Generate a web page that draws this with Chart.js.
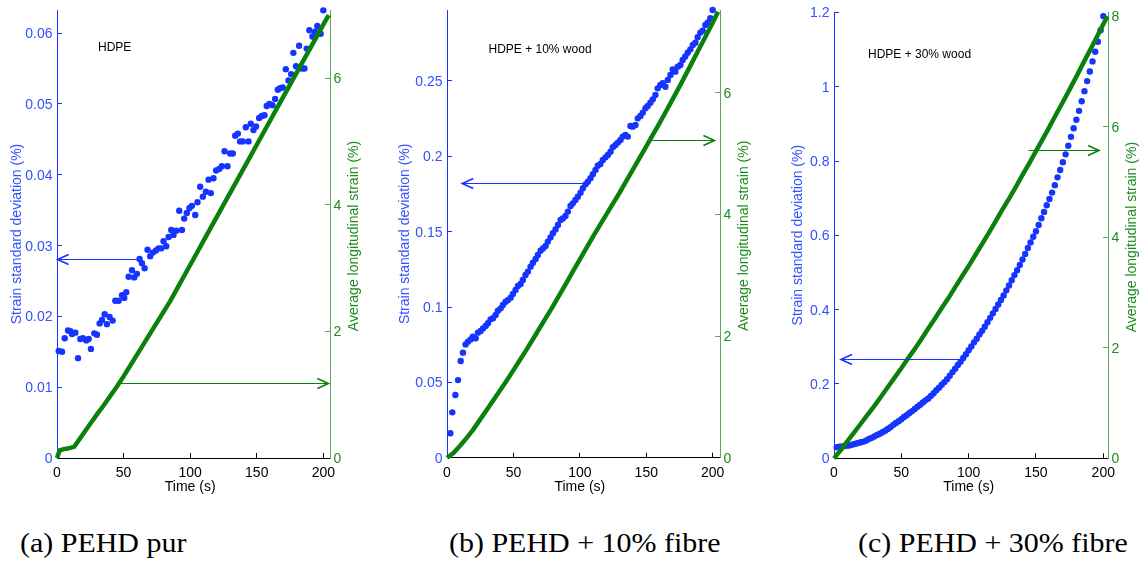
<!DOCTYPE html>
<html>
<head>
<meta charset="utf-8">
<script src="https://cdn.jsdelivr.net/npm/chart.js@4.4.1/dist/chart.umd.min.js"></script>
<style>
    body { margin: 0; background: #fff; width: 1147px; height: 563px; overflow: hidden; position: relative; }
    .panel { position: absolute; top: 0; }
    .caption { position: absolute; top: 529px; font-family: "Liberation Serif", serif; font-size: 28px; line-height: 28px; white-space: nowrap; color: #000; transform: scaleX(1.07); transform-origin: left center; }
</style>
</head>
<body>
<div class="panel" id="panelA"><canvas id="chartA"></canvas></div>
<div class="panel" id="panelB"><canvas id="chartB"></canvas></div>
<div class="panel" id="panelC"><canvas id="chartC"></canvas></div>
<div class="caption" style="left:20px">(a) PEHD pur</div>
<div class="caption" style="left:449px">(b) PEHD + 10% fibre</div>
<div class="caption" style="left:858px">(c) PEHD + 30% fibre</div>
<script>
// HDPE: strain standard deviation (left axis) and average strain (right axis)
const timeA = [1.3, 3.8, 5.8, 8.3, 10, 11.3, 13.8, 15.8, 17.5, 19.5, 22, 23.8, 25.5, 28, 30, 32, 33.8, 35.8, 37.5, 39.5,
    41.8, 43.8, 46.3, 48.8, 50.5, 52, 53.8, 56.3, 58, 60, 62, 63.8, 65.8, 68, 70, 72, 74.3, 76.3, 78.3, 80,
    82, 83.8, 85.8, 87.5, 89.5, 91.8, 93.8, 95.5, 97.5, 99.5, 101.3, 103.8, 105.5, 107.5, 109.5, 111.8, 113.8, 115.5, 117.5, 119.5,
    121.8, 123.8, 125.8, 128, 130, 132, 133.8, 135.8, 137.5, 139.5, 141.8, 143.8, 145.5, 147.5, 149.5, 151.8, 153.8, 155.8, 157.5, 159.5,
    161.8, 163.8, 165.8, 167.5, 169.5, 171.8, 173.8, 175.8, 177.5, 179.5, 181.8, 183.8, 185.8, 187.5, 189.5, 191.8, 193.8, 195.5, 198, 200];
const stdA = [0.0151, 0.0150, 0.0169, 0.0180, 0.0179, 0.0175, 0.0177, 0.0141, 0.0168, 0.0169,
    0.0166, 0.0168, 0.0154, 0.0176, 0.0174, 0.0190, 0.0195, 0.0203, 0.0189, 0.0199,
    0.0194, 0.0222, 0.0222, 0.0230, 0.0226, 0.0234, 0.0256, 0.0265, 0.0255, 0.0260,
    0.0281, 0.0275, 0.0268, 0.0294, 0.0285, 0.0290, 0.0293, 0.0296, 0.0296, 0.0306,
    0.0299, 0.0312, 0.0322, 0.0315, 0.0321, 0.0349, 0.0322, 0.0338, 0.0346, 0.0353,
    0.0356, 0.0343, 0.0361, 0.0383, 0.0369, 0.0376, 0.0393, 0.0374, 0.0395, 0.0406,
    0.0408, 0.0412, 0.0433, 0.0412, 0.0430, 0.0430, 0.0455, 0.0458, 0.0447, 0.0447,
    0.0467, 0.0447, 0.0472, 0.0463, 0.0468, 0.0480, 0.0483, 0.0484, 0.0497, 0.0500,
    0.0498, 0.0507, 0.0520, 0.0522, 0.0523, 0.0549, 0.0533, 0.0542, 0.0572, 0.0553,
    0.0582, 0.0550, 0.0550, 0.0578, 0.0604, 0.0595, 0.0602, 0.0610, 0.0599, 0.0632];
const strainTimeA = [0, 2, 5, 8, 10, 13, 15, 20, 25, 30, 35, 40, 45, 50, 55, 60, 65, 70, 75, 80, 85, 90, 95, 100,
    105, 110, 115, 120, 125, 130, 135, 140, 145, 150, 155, 160, 165, 170, 175, 180, 185, 190, 195, 200, 204];
const strainA = [0, 0.12, 0.14, 0.15, 0.16, 0.18, 0.24, 0.39, 0.54, 0.69, 0.83, 0.98, 1.13, 1.29, 1.46, 1.63, 1.80, 1.97, 2.14, 2.31, 2.48, 2.67, 2.86, 3.05,
    3.24, 3.43, 3.62, 3.81, 4.00, 4.19, 4.38, 4.57, 4.76, 4.95, 5.14, 5.33, 5.52, 5.71, 5.90, 6.09, 6.28, 6.47, 6.66, 6.85, 7.00];

// HDPE + 10% wood
const timeB = [2.5, 4.0, 6.3, 8.3, 10.3, 12.0, 14.0, 15.8, 17.8, 19.5, 21.6, 23.3, 25.3, 27.1, 29.1, 30.8, 32.8, 34.6, 36.6, 38.3,
    40.4, 42.1, 44.1, 45.9, 47.9, 49.6, 51.6, 53.4, 55.4, 57.1, 59.1, 60.9, 62.9, 64.7, 66.7, 68.4, 70.4, 72.2, 74.2, 75.9,
    77.9, 79.7, 81.7, 83.5, 85.5, 87.2, 89.2, 91.0, 93.0, 94.7, 96.7, 98.5, 100.5, 102.3, 104.3, 106.0, 108.0, 109.8, 111.8, 113.5,
    115.5, 117.3, 119.3, 121.1, 123.1, 124.8, 126.8, 128.6, 130.6, 132.3, 134.3, 136.1, 138.1, 139.8, 141.9, 143.6, 145.6, 147.4, 149.4, 151.1,
    153.1, 154.9, 156.9, 158.6, 160.6, 162.4, 164.4, 166.2, 168.2, 169.9, 171.9, 173.7, 175.7, 177.4, 179.4, 181.2, 183.2, 185.0, 187.0, 188.7,
    190.7, 192.5, 194.5, 196.2, 198.2, 200.0];
const stdB = [0.0162, 0.0301, 0.0416, 0.0515, 0.0642, 0.0697, 0.0752, 0.0770, 0.0785, 0.0803,
    0.0792, 0.0830, 0.0841, 0.0858, 0.0874, 0.0892, 0.0918, 0.0925, 0.0947, 0.0976,
    0.0991, 0.1013, 0.1035, 0.1046, 0.1062, 0.1086, 0.1113, 0.1139, 0.1153, 0.1179,
    0.1212, 0.1235, 0.1268, 0.1294, 0.1319, 0.1345, 0.1374, 0.1389, 0.1405, 0.1434,
    0.1462, 0.1489, 0.1515, 0.1544, 0.1577, 0.1588, 0.1604, 0.1633, 0.1670, 0.1688,
    0.1710, 0.1732, 0.1759, 0.1788, 0.1814, 0.1832, 0.1854, 0.1881, 0.1909, 0.1938,
    0.1949, 0.1976, 0.1993, 0.2009, 0.2031, 0.2060, 0.2075, 0.2091, 0.2108, 0.2131,
    0.2142, 0.2131, 0.2201, 0.2197, 0.2208, 0.2252, 0.2268, 0.2290, 0.2319, 0.2334,
    0.2356, 0.2378, 0.2407, 0.2451, 0.2473, 0.2485, 0.2462, 0.2507, 0.2540, 0.2577,
    0.2562, 0.2595, 0.2606, 0.2639, 0.2662, 0.2688, 0.2710, 0.2739, 0.2754, 0.2790,
    0.2821, 0.2834, 0.2872, 0.2887, 0.2916, 0.2971];
const strainTimeB = [0, 5, 10, 15, 20, 25, 30, 35, 40, 45, 50, 55, 60, 65, 70, 75, 80, 85, 90, 95, 100,
    105, 110, 115, 120, 125, 130, 135, 140, 145, 150, 155, 160, 165, 170, 175, 180, 185, 190, 195, 200, 204];
const strainB = [0, 0.08, 0.20, 0.33, 0.47, 0.63, 0.79, 0.95, 1.11, 1.27, 1.44, 1.61, 1.78, 1.96, 2.14, 2.32, 2.50, 2.69, 2.88, 3.07, 3.26,
    3.45, 3.64, 3.82, 4.00, 4.18, 4.36, 4.55, 4.74, 4.93, 5.12, 5.31, 5.50, 5.70, 5.90, 6.10, 6.31, 6.52, 6.73, 6.94, 7.15, 7.33];

// HDPE + 30% wood
const timeC = [2, 4, 6, 8, 10, 12, 14, 16, 18, 20, 22, 24, 26, 28, 30, 32, 34, 36, 38, 40,
    42, 44, 46, 48, 50, 52, 54, 56, 58, 60, 62, 64, 66, 68, 70, 72, 74, 76, 78, 80,
    82, 84, 86, 88, 90, 92, 94, 96, 98, 100, 102, 104, 106, 108, 110, 112, 114, 116, 118, 120,
    122, 124, 126, 128, 130, 132, 134, 136, 138, 140, 142, 144, 146, 148, 150, 152, 154, 156, 158, 160,
    162, 164, 166, 168, 170, 172, 174, 176, 178, 180, 182, 184, 186, 188, 190, 192, 194, 196, 198, 200];
const stdC = [0.030, 0.031, 0.032, 0.033, 0.034, 0.035, 0.037, 0.039, 0.041, 0.043,
    0.045, 0.048, 0.052, 0.055, 0.059, 0.063, 0.066, 0.070, 0.074, 0.079,
    0.084, 0.090, 0.095, 0.100, 0.105, 0.111, 0.116, 0.122, 0.127, 0.133,
    0.139, 0.144, 0.150, 0.156, 0.161, 0.168, 0.175, 0.183, 0.190, 0.198,
    0.205, 0.213, 0.222, 0.232, 0.241, 0.251, 0.260, 0.270, 0.280, 0.291,
    0.301, 0.312, 0.322, 0.333, 0.343, 0.354, 0.366, 0.378, 0.390, 0.402,
    0.414, 0.426, 0.438, 0.452, 0.465, 0.479, 0.493, 0.506, 0.520, 0.535,
    0.550, 0.566, 0.581, 0.596, 0.611, 0.628, 0.646, 0.663, 0.681, 0.698,
    0.715, 0.735, 0.756, 0.776, 0.797, 0.818, 0.841, 0.865, 0.888, 0.911,
    0.935, 0.961, 0.988, 1.015, 1.041, 1.068, 1.094, 1.121, 1.152, 1.190];
const strainTimeC = [0, 5, 10, 15, 20, 25, 30, 35, 40, 45, 50, 55, 60, 65, 70, 75, 80, 85, 90, 95, 100,
    105, 110, 115, 120, 125, 130, 135, 140, 145, 150, 155, 160, 165, 170, 175, 180, 185, 190, 195, 200, 203];
const strainC = [0, 0.15, 0.31, 0.47, 0.63, 0.79, 0.95, 1.12, 1.29, 1.46, 1.63, 1.81, 1.98, 2.16, 2.35, 2.53, 2.72, 2.90, 3.10, 3.29, 3.48,
    3.68, 3.88, 4.08, 4.29, 4.50, 4.70, 4.91, 5.13, 5.34, 5.56, 5.78, 6.00, 6.23, 6.45, 6.68, 6.91, 7.15, 7.38, 7.62, 7.86, 8.00];

// arrows: [axis, level, from time, to time]
const arrowsA = [['y', 0.02805, 60.8, 0.5], ['y1', 1.18, 46.3, 203.8]];
const arrowsB = [['y', 0.182, 104.8, 11.5], ['y1', 5.22, 153.6, 201.3]];
const arrowsC = [['y', 0.267, 94.5, 5.2], ['y1', 5.59, 144.5, 196.8]];

const sampleNames = ['HDPE', 'HDPE + 10% wood', 'HDPE + 30% wood'];
const leftTitle = 'Strain standard deviation (%)';
const rightTitle = 'Average longitudinal strain (%)';
const xTitle = 'Time (s)';

const BLUE = 'rgb(22, 52, 255)';
const BLUE_TEXT = 'rgb(50, 80, 255)';
const GREEN = 'rgb(12, 128, 12)';
const GREEN_TEXT = 'rgb(30, 140, 30)';
const FONT = '"Liberation Sans", Arial, sans-serif';
const LW = 57;
const RW = 40;

Chart.defaults.font.family = FONT;
Chart.defaults.font.size = 14;

const panels = [
    { id: 'A', area: { left: 57, right: 330, top: 10, bottom: 458 }, xMax: 205, yMax: 0.06325, yStep: 0.01, y1Max: 7.08,
      std: [timeA, stdA], strain: [strainTimeA, strainA], arrows: arrowsA, name: sampleNames[0], nameAt: [41, 38], titleGap: 40 },
    { id: 'B', area: { left: 446.5, right: 719, top: 10, bottom: 457.7 }, xMax: 205.5, yMax: 0.2971, yStep: 0.05, y1Max: 7.36,
      std: [timeB, stdB], strain: [strainTimeB, strainB], arrows: arrowsB, name: sampleNames[1], nameAt: [41.5, 40], titleGap: 41.5 },
    { id: 'C', area: { left: 834, right: 1107.7, top: 12, bottom: 458.3 }, xMax: 203.5, yMax: 1.201, yStep: 0.2, y1Max: 8.08,
      std: [timeC, stdC], strain: [strainTimeC, strainC], arrows: arrowsC, name: sampleNames[2], nameAt: [34, 43], titleGap: 35.7 }
];

const toPoints = (xs, ys) => xs.map((x, i) => ({ x: x, y: ys[i] }));
const tickText = v => String(parseFloat(Number(v).toFixed(4)));

// tick labels, axis titles, sample name and arrows are painted here
const overlay = {
    id: 'overlay',
    afterDatasetsDraw(chart) {
        const ctx = chart.ctx;
        const xs = chart.scales.x;
        chart.options.plugins.overlay.arrows.forEach(([axis, level, from, to]) => {
            const y = Math.round(chart.scales[axis].getPixelForValue(level)) + 0.5;
            const x0 = xs.getPixelForValue(from);
            const x1 = xs.getPixelForValue(to);
            const dir = Math.sign(x1 - x0);
            ctx.save();
            ctx.strokeStyle = axis === 'y' ? BLUE : GREEN;
            ctx.lineWidth = 1.2;
            ctx.beginPath();
            ctx.moveTo(x0, y);
            ctx.lineTo(x1, y);
            ctx.stroke();
            ctx.lineWidth = 1.6;
            ctx.beginPath();
            ctx.moveTo(x1 - dir * 11, y - 5);
            ctx.lineTo(x1, y);
            ctx.lineTo(x1 - dir * 11, y + 5);
            ctx.stroke();
            ctx.restore();
        });
    },
    afterDraw(chart) {
        const ctx = chart.ctx;
        const a = chart.chartArea;
        const o = chart.options.plugins.overlay;
        const midY = (a.top + a.bottom) / 2;
        const sx = chart.scales.x, sy = chart.scales.y, sy1 = chart.scales.y1;
        ctx.save();
        ctx.font = '14px ' + FONT;
        ctx.textBaseline = 'alphabetic';

        ctx.fillStyle = BLUE_TEXT;
        ctx.textAlign = 'right';
        sy.ticks.forEach(t => ctx.fillText(tickText(t.value), a.left - 4.5, sy.getPixelForValue(t.value) + 5));

        ctx.fillStyle = GREEN_TEXT;
        ctx.textAlign = 'left';
        sy1.ticks.forEach(t => ctx.fillText(tickText(t.value), a.right + 3.5, sy1.getPixelForValue(t.value) + 5));

        ctx.fillStyle = '#000';
        ctx.textAlign = 'center';
        sx.ticks.forEach(t => ctx.fillText(tickText(t.value), sx.getPixelForValue(t.value), a.bottom + 19));

        ctx.textBaseline = 'middle';
        ctx.fillStyle = BLUE_TEXT;
        ctx.save();
        ctx.translate(a.left - o.titleGap, midY);
        ctx.rotate(-Math.PI / 2);
        ctx.fillText(leftTitle, 0, 0);
        ctx.restore();

        ctx.fillStyle = GREEN_TEXT;
        ctx.save();
        ctx.translate(a.right + 24, midY + 2);
        ctx.rotate(-Math.PI / 2);
        ctx.fillText(rightTitle, 0, 0);
        ctx.restore();

        ctx.fillStyle = '#000';
        ctx.fillText(xTitle, sx.getPixelForValue(100), a.bottom + 29);

        ctx.font = '12px ' + FONT;
        ctx.textAlign = 'left';
        ctx.fillText(o.name, a.left + o.nameAt[0], a.top + o.nameAt[1]);
        ctx.restore();
    }
};

panels.forEach(p => {
    const wrap = document.getElementById('panel' + p.id);
    const canvas = document.getElementById('chart' + p.id);
    const width = Math.round(LW + (p.area.right - p.area.left) + RW);
    wrap.style.left = (p.area.left - LW) + 'px';
    canvas.width = width;
    canvas.height = 500;
    canvas.style.width = width + 'px';
    canvas.style.height = '500px';

    const yFit = w => s => { s.width = w; s.paddingTop = 0; s.paddingBottom = 0; };

    new Chart(canvas, {
        type: 'scatter',
        data: {
            datasets: [
                {
                    data: toPoints(p.strain[0], p.strain[1]),
                    yAxisID: 'y1',
                    showLine: true,
                    borderColor: GREEN,
                    borderWidth: 4.5,
                    pointRadius: 0,
                    clip: false,
                    order: 0
                },
                {
                    data: toPoints(p.std[0], p.std[1]),
                    yAxisID: 'y',
                    backgroundColor: BLUE,
                    pointRadius: 3.2,
                    pointBorderWidth: 0,
                    clip: false,
                    order: 1
                }
            ]
        },
        options: {
            responsive: false,
            animation: false,
            events: [],
            layout: { padding: { top: p.area.top, left: 0, right: 0, bottom: 0 } },
            plugins: {
                legend: { display: false },
                tooltip: { enabled: false },
                overlay: { arrows: p.arrows, name: p.name, nameAt: p.nameAt, titleGap: p.titleGap }
            },
            scales: {
                x: {
                    type: 'linear',
                    min: 0,
                    max: p.xMax,
                    afterFit: s => { s.height = 500 - p.area.bottom; s.paddingLeft = 0; s.paddingRight = 0; },
                    ticks: { display: false, stepSize: 50, includeBounds: false },
                    grid: { drawOnChartArea: false, tickLength: -5, color: '#000' },
                    border: { color: '#000' }
                },
                y: {
                    position: 'left',
                    min: 0,
                    max: p.yMax,
                    afterFit: yFit(LW),
                    ticks: { display: false, stepSize: p.yStep, includeBounds: false },
                    grid: { drawOnChartArea: false, tickLength: -5, color: BLUE },
                    border: { color: BLUE }
                },
                y1: {
                    position: 'right',
                    min: 0,
                    max: p.y1Max,
                    afterFit: yFit(RW),
                    ticks: { display: false, stepSize: 2, includeBounds: false },
                    grid: { drawOnChartArea: false, tickLength: -5, color: 'rgb(90, 170, 90)' },
                    border: { color: 'rgb(90, 170, 90)' }
                }
            }
        },
        plugins: [overlay]
    });
});
</script>
</body>
</html>
